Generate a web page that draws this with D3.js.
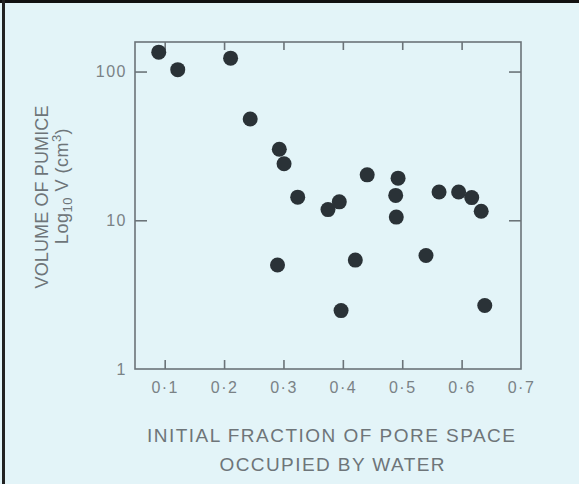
<!DOCTYPE html>
<html>
<head>
<meta charset="utf-8">
<script src="https://cdn.jsdelivr.net/npm/d3@7"></script>
<style>
  html, body { margin: 0; padding: 0; background: #e3f4f8; }
  svg { display: block; }
</style>
</head>
<body>
<div id="wrapper"></div>
<script>
// water fraction vs pumice volume (cm3)
const fraction = [0.09, 0.122, 0.211, 0.244, 0.293, 0.301, 0.324, 0.375, 0.394, 0.441, 0.493,
                  0.489, 0.490, 0.562, 0.595, 0.617, 0.633, 0.290, 0.421, 0.540, 0.397, 0.639];
const volume   = [135, 103, 123, 48, 30, 24, 14.3, 11.8, 13.3, 20.2, 19.2,
                  14.7, 10.5, 15.5, 15.5, 14.2, 11.5, 5.0, 5.4, 5.8, 2.47, 2.67];
const xTicks = [0.1, 0.2, 0.3, 0.4, 0.5, 0.6, 0.7];
const xTickLabels = ["0·1", "0·2", "0·3", "0·4", "0·5", "0·6", "0·7"];
const yTicks = [1, 10, 100];
const yTickLabels = ["1", "10", "100"];

function build() {
    var dimension = {
        width: 579,
        height: 484,
        margin: { top: 42, right: 58, bottom: 115, left: 135 }
    };
    dimension.boundedWidth = dimension.width - dimension.margin.left - dimension.margin.right;
    dimension.boundedHeight = dimension.height - dimension.margin.top - dimension.margin.bottom;

    const wrapper = d3.select("#wrapper")
        .append("svg")
        .attr("width", dimension.width)
        .attr("height", dimension.height);

    wrapper.append("rect")
        .attr("width", dimension.width)
        .attr("height", dimension.height)
        .attr("fill", "#e3f4f8");

    // dark photo border top and left
    wrapper.append("rect").attr("x", 0).attr("y", 0).attr("width", dimension.width).attr("height", 3).attr("fill", "#111");
    wrapper.append("rect").attr("x", 2).attr("y", 0).attr("width", 3).attr("height", dimension.height).attr("fill", "#222");

    const bounds = wrapper.append("g")
        .attr("transform", `translate(${dimension.margin.left},${dimension.margin.top})`);

    const x = d3.scaleLinear()
        .domain([0.05, 0.7])
        .range([0, dimension.boundedWidth]);

    const y = d3.scaleLog()
        .domain([1, 158])
        .range([dimension.boundedHeight, 0]);

    const axisColor = "#6b7378";
    const labelColor = "#7a8286";
    const font = "'Liberation Sans', Arial, sans-serif";

    // frame
    bounds.append("rect")
        .attr("width", dimension.boundedWidth)
        .attr("height", dimension.boundedHeight)
        .attr("fill", "none")
        .attr("stroke", axisColor)
        .attr("stroke-width", 1.6);

    // bottom axis
    const xAxis = bounds.append("g")
        .attr("transform", `translate(0,${dimension.boundedHeight})`)
        .call(d3.axisBottom(x).tickValues(xTicks).tickSize(-9).tickPadding(13)
            .tickFormat((d, i) => xTickLabels[i]));
    xAxis.select(".domain").remove();
    xAxis.selectAll("line").attr("stroke", axisColor).attr("stroke-width", 1.6)
        .filter(d => d === 0.7).remove();
    xAxis.selectAll("text").attr("fill", labelColor).attr("font-family", font)
        .attr("font-size", 16).attr("letter-spacing", 1.5);

    // top ticks
    const xTop = bounds.append("g")
        .call(d3.axisTop(x).tickValues(xTicks.slice(0, 6)).tickSize(-8).tickFormat(""));
    xTop.select(".domain").remove();
    xTop.selectAll("line").attr("stroke", axisColor).attr("stroke-width", 1.6);

    // left axis
    const yAxis = bounds.append("g")
        .call(d3.axisLeft(y).tickValues(yTicks).tickSize(-12).tickPadding(8)
            .tickFormat((d, i) => yTickLabels[i]));
    yAxis.select(".domain").remove();
    yAxis.selectAll("line").attr("stroke", axisColor).attr("stroke-width", 1.6)
        .filter(d => d === 1).remove();
    yAxis.selectAll("text").attr("fill", labelColor).attr("font-family", font)
        .attr("font-size", 16).attr("letter-spacing", 1.5);

    // right ticks
    const yRight = bounds.append("g")
        .attr("transform", `translate(${dimension.boundedWidth},0)`)
        .call(d3.axisRight(y).tickValues([10, 100]).tickSize(-12).tickFormat(""));
    yRight.select(".domain").remove();
    yRight.selectAll("line").attr("stroke", axisColor).attr("stroke-width", 1.6);

    // points
    const data = fraction.map((f, i) => ({ f: f, v: volume[i] }));
    bounds.selectAll("circle")
        .data(data)
        .enter()
        .append("circle")
        .attr("cx", d => x(d.f))
        .attr("cy", d => y(d.v))
        .attr("r", 7.5)
        .attr("fill", "#2a3237");

    // x title
    wrapper.append("text")
        .attr("x", 331).attr("y", 442)
        .attr("text-anchor", "middle")
        .attr("textLength", 368).attr("lengthAdjust", "spacing")
        .attr("fill", "#6e7579")
        .style("font-family", font).style("font-size", "19px")
        .text("INITIAL FRACTION OF PORE SPACE");
    wrapper.append("text")
        .attr("x", 332).attr("y", 471)
        .attr("text-anchor", "middle")
        .attr("textLength", 225).attr("lengthAdjust", "spacing")
        .attr("fill", "#6e7579")
        .style("font-family", font).style("font-size", "19px")
        .text("OCCUPIED BY WATER");

    // y title
    wrapper.append("text")
        .attr("transform", "translate(48,197) rotate(-90)")
        .attr("text-anchor", "middle")
        .attr("textLength", 183).attr("lengthAdjust", "spacing")
        .attr("fill", "#6e7579")
        .style("font-family", font).style("font-size", "18px")
        .text("VOLUME OF PUMICE");

    const yt2 = wrapper.append("text")
        .attr("transform", "translate(68,186) rotate(-90)")
        .attr("text-anchor", "middle")
        .attr("fill", "#6e7579")
        .style("font-family", font).style("font-size", "18px")
        .style("letter-spacing", "0.5px");
    yt2.append("tspan").text("Log");
    yt2.append("tspan").attr("dy", 4).style("font-size", "13px").text("10");
    yt2.append("tspan").attr("dy", -4).text("  V  (cm");
    yt2.append("tspan").attr("dy", -7).style("font-size", "13px").text("3");
    yt2.append("tspan").attr("dy", 7).text(")");
}

build();
</script>
</body>
</html>
